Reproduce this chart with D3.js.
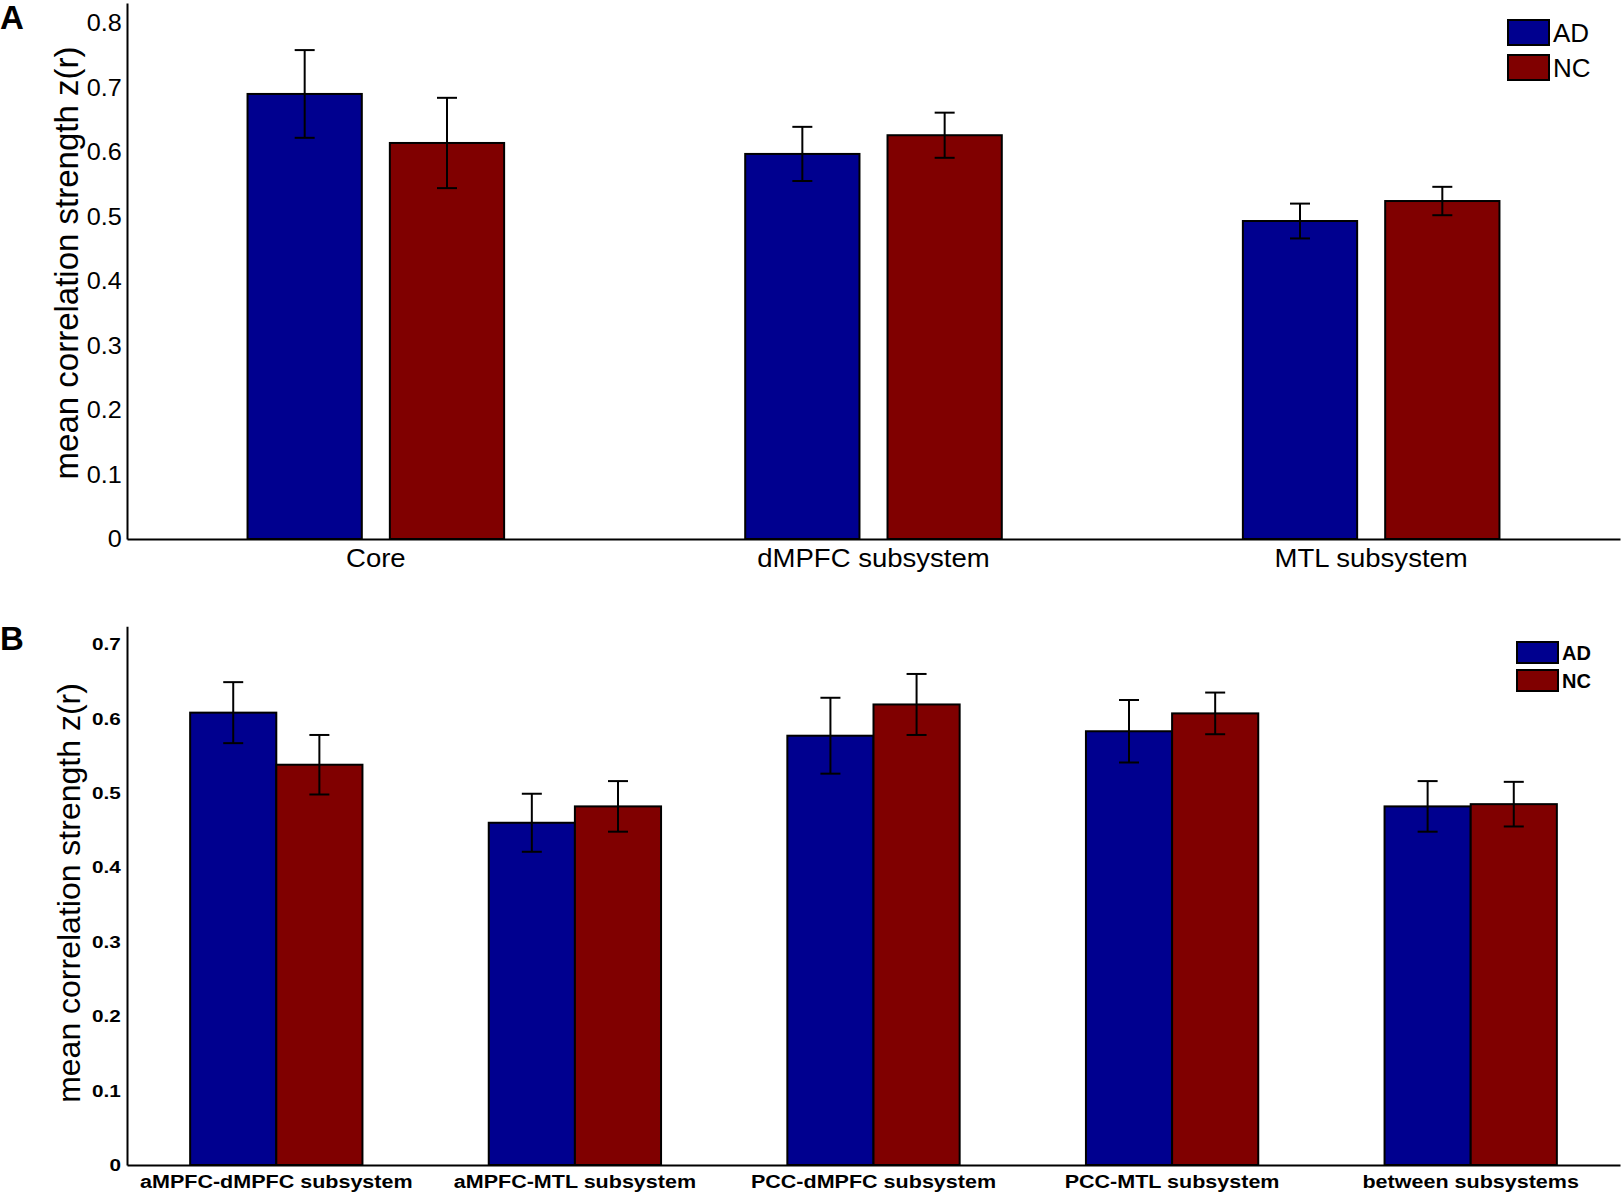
<!DOCTYPE html>
<html>
<head>
<meta charset="utf-8">
<script src="https://cdn.jsdelivr.net/npm/d3@7"></script>
<style>
  html, body { margin: 0; padding: 0; background: #fff; }
  svg { display: block; }
  text { font-family: "Liberation Sans", Arial, sans-serif; fill: #000; }
</style>
</head>
<body>
<div id="chart"></div>
<script>
const groups = ["AD", "NC"];
const groupColors = ["#00008F", "#800000"];

// panel A
const catsA = ["Core", "dMPFC subsystem", "MTL subsystem"];
const adA = [0.690, 0.597, 0.493];
const ncA = [0.614, 0.626, 0.524];
const adSeA = [0.068, 0.042, 0.027];
const ncSeA = [0.070, 0.035, 0.022];
const ticksA = [0, 0.1, 0.2, 0.3, 0.4, 0.5, 0.6, 0.7, 0.8];

// panel B
const catsB = ["aMPFC-dMPFC subsystem", "aMPFC-MTL subsystem", "PCC-dMPFC subsystem", "PCC-MTL subsystem", "between subsystems"];
const adB = [0.608, 0.460, 0.577, 0.583, 0.482];
const ncB = [0.538, 0.482, 0.619, 0.607, 0.485];
const adSeB = [0.041, 0.039, 0.051, 0.042, 0.034];
const ncSeB = [0.040, 0.034, 0.041, 0.028, 0.030];
const ticksB = [0, 0.1, 0.2, 0.3, 0.4, 0.5, 0.6, 0.7];

const W = 1622, H = 1195;
const svg = d3.select("#chart").append("svg").attr("width", W).attr("height", H);
const fmt = d => d === 0 ? "0" : d3.format(".1f")(d);

function panel(o) {
  const g = svg.append("g");
  const rows = o.cats.map((c, i) => ({
    cat: c,
    vals: [{ k: "AD", v: o.ad[i], se: o.adSe[i] }, { k: "NC", v: o.nc[i], se: o.ncSe[i] }]
  }));

  const x = d3.scaleBand().domain(o.cats).range([127, 1620]);
  const xi = d3.scaleBand().domain(groups).range([0, x.bandwidth()])
    .paddingInner(o.padIn).paddingOuter(o.padOut);
  const y = d3.scaleLinear().domain([0, o.yMax]).range([o.base, o.base - o.yMax * o.unit]);
  const color = d3.scaleOrdinal().domain(groups).range(groupColors);

  // bars
  const cg = g.selectAll(".cat").data(rows).join("g").attr("transform", d => `translate(${x(d.cat)},0)`);
  cg.selectAll("rect").data(d => d.vals).join("rect")
    .attr("x", d => xi(d.k)).attr("width", xi.bandwidth())
    .attr("y", d => y(d.v)).attr("height", d => y(0) - y(d.v))
    .attr("fill", d => color(d.k)).attr("stroke", "#000").attr("stroke-width", 2);

  // error bars (mean ± SE)
  const eb = cg.selectAll(".err").data(d => d.vals).join("g").attr("class", "err")
    .attr("transform", d => `translate(${xi(d.k) + xi.bandwidth() / 2},0)`)
    .attr("stroke", "#000").attr("stroke-width", 2);
  eb.append("line").attr("y1", d => y(d.v - d.se)).attr("y2", d => y(d.v + d.se));
  eb.append("line").attr("x1", -10).attr("x2", 10).attr("y1", d => y(d.v + d.se)).attr("y2", d => y(d.v + d.se));
  eb.append("line").attr("x1", -10).attr("x2", 10).attr("y1", d => y(d.v - d.se)).attr("y2", d => y(d.v - d.se));

  // axes
  const ya = g.append("g").attr("transform", "translate(127,0)")
    .call(d3.axisLeft(y).tickValues(o.ticks).tickFormat(fmt).tickSize(0).tickPadding(5));
  ya.select(".domain").attr("stroke-width", 2);
  ya.selectAll("text").style("font-size", o.tickFont + "px").style("font-weight", o.bold ? 700 : 400)
    .attr("transform", `scale(${o.tickScale},1)`);

  const xa = g.append("g").attr("transform", `translate(0,${o.base})`)
    .call(d3.axisBottom(x).tickSize(0).tickSizeOuter(0));
  xa.select(".domain").attr("stroke-width", 2);
  xa.selectAll("text").attr("y", o.catY).attr("dy", null)
    .style("font-size", o.catFont + "px").style("font-weight", o.bold ? 700 : 400)
    .attr("transform", `scale(${o.catScale},1)`);
  g.selectAll(".tick text").attr("fill", "#000");
  g.selectAll(".domain").attr("stroke", "#000");

  // y label
  g.append("text").attr("transform", `translate(${o.labelX},${o.labelY}) rotate(-90)`)
    .attr("text-anchor", "middle").style("font-size", o.labelFont + "px")
    .text("mean correlation strength z(r)");

  // panel letter
  g.append("text").attr("x", 0).attr("y", o.letterY).style("font-size", "33px").style("font-weight", 700)
    .text(o.letter);

  // legend
  const lg = g.append("g").attr("transform", `translate(${o.legX},${o.legY})`);
  groups.forEach((k, i) => {
    lg.append("rect").attr("x", 0).attr("y", i * o.legStep).attr("width", 41).attr("height", o.legH)
      .attr("fill", color(k)).attr("stroke", "#000").attr("stroke-width", 2);
    lg.append("text").attr("x", 45).attr("y", i * o.legStep + o.legH / 2).attr("dy", "0.36em")
      .style("font-size", o.legFont + "px").style("font-weight", o.bold ? 700 : 400).text(k);
  });
}

panel({
  letter: "A", letterY: 29, cats: catsA, ad: adA, nc: ncA, adSe: adSeA, ncSe: ncSeA, ticks: ticksA,
  yMax: 0.831, base: 539, unit: 645, padIn: 0.197, padOut: 0.847,
  bold: false, tickFont: 24, tickScale: 1.05, catFont: 25.5, catScale: 1.08, catY: 28,
  labelFont: 33, labelX: 78, labelY: 263,
  legX: 1508, legY: 20, legStep: 35, legH: 25, legFont: 26
});

panel({
  letter: "B", letterY: 650, cats: catsB, ad: adB, nc: ncB, adSe: adSeB, ncSe: ncSeB, ticks: ticksB,
  yMax: 0.724, base: 1165, unit: 744, padIn: 0, padOut: 0.733,
  bold: true, tickFont: 17, tickScale: 1.22, catFont: 17.5, catScale: 1.23, catY: 23,
  labelFont: 32, labelX: 80, labelY: 893,
  legX: 1517, legY: 642, legStep: 28, legH: 21, legFont: 20
});
</script>
</body>
</html>
